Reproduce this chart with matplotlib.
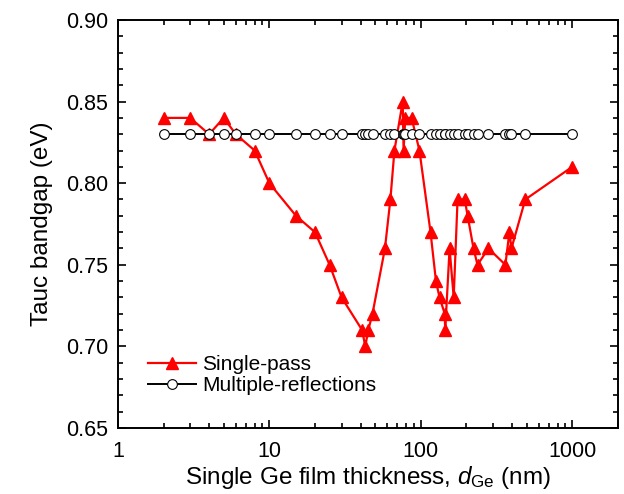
import numpy as np
import matplotlib
matplotlib.use("Agg")
import matplotlib.pyplot as plt
from matplotlib.ticker import MultipleLocator, LogLocator, NullFormatter, FormatStrFormatter, FixedLocator, FixedFormatter

plt.rcParams['font.family'] = ['Liberation Sans', 'DejaVu Sans']
plt.rcParams['mathtext.fontset'] = 'custom'
plt.rcParams['mathtext.rm'] = 'Liberation Sans'
plt.rcParams['mathtext.it'] = 'Liberation Sans:italic'

# film thickness (nm), shared by both series
thickness = [2, 3, 4, 5, 6, 8, 10, 15, 20, 25, 30, 41, 43, 45, 48, 58, 63, 67,
             76, 77, 79, 87, 98, 116, 126, 133, 144, 145, 155, 165, 175, 195,
             204, 223, 237, 280, 362, 385, 397, 490, 1000]
single_pass = [0.84, 0.84, 0.83, 0.84, 0.83, 0.82, 0.80, 0.78, 0.77, 0.75, 0.73,
               0.71, 0.70, 0.71, 0.72, 0.76, 0.79, 0.82, 0.85, 0.82, 0.84, 0.84,
               0.82, 0.77, 0.74, 0.73, 0.72, 0.71, 0.76, 0.73, 0.79, 0.79, 0.78,
               0.76, 0.75, 0.76, 0.75, 0.77, 0.76, 0.79, 0.81]
multi_refl = [0.83] * len(thickness)
x_ticks = [1, 10, 100, 1000]
x_labels = ['1', '10', '100', '1000']

fig = plt.figure(figsize=(6.24, 4.94), dpi=100)
ax = fig.add_axes([0.189, 0.1336, 0.801, 0.826])

ax.plot(thickness, single_pass, color='red', lw=1.6, marker='^', ms=8.5,
        mec='red', mfc='red', label='Single-pass', zorder=2)
ax.plot(thickness, multi_refl, color='black', lw=1.4, marker='o', ms=7,
        mec='black', mfc='white', mew=0.8, label='Multiple-reflections', zorder=3)

ax.set_xscale('log')
ax.set_xlim(1, 2000)
ax.set_ylim(0.65, 0.90)
ax.yaxis.set_major_locator(MultipleLocator(0.05))
ax.yaxis.set_minor_locator(MultipleLocator(0.01))
ax.yaxis.set_major_formatter(FormatStrFormatter('%.2f'))
ax.xaxis.set_major_locator(FixedLocator(x_ticks))
ax.xaxis.set_major_formatter(FixedFormatter(x_labels))
ax.xaxis.set_minor_locator(LogLocator(base=10, subs=np.arange(2, 10)))
ax.xaxis.set_minor_formatter(NullFormatter())

ax.tick_params(which='both', direction='in', top=True, right=True, labelsize=15.5, width=1.2)
ax.tick_params(which='major', length=6)
ax.tick_params(axis='y', which='major', pad=7)
ax.tick_params(axis='x', which='major', pad=9)
ax.tick_params(which='minor', length=3.5)
for s in ax.spines.values():
    s.set_linewidth(1.4)

ax.set_xlabel(r'Single Ge film thickness, $d_{\rm Ge}$ (nm)', fontsize=17.5, labelpad=2)
ax.set_ylabel('Tauc bandgap (eV)', fontsize=17.5, labelpad=9)

ax.legend(loc='lower left', bbox_to_anchor=(0.031, 0.045), frameon=False, fontsize=15,
          handlelength=2.3, handletextpad=0.3, labelspacing=0.1, borderpad=0.2)

fig.savefig('out.png', dpi=100)
